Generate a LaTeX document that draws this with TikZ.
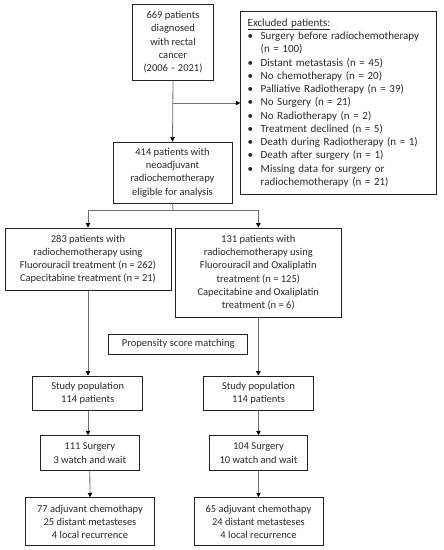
\documentclass[tikz,border=0pt]{standalone}
\usepackage{fontspec}
\setmainfont{Carlito}
\usetikzlibrary{arrows.meta}
\definecolor{boxc}{HTML}{222222}
\definecolor{linec}{HTML}{707070}
\definecolor{txtc}{HTML}{2A2A2A}
\newcommand{\bl}[1]{\makebox[13pt][l]{\textbullet}#1}
\newcommand{\cn}[1]{\hspace*{13pt}#1}
\newcommand{\exsp}{\fontsize{11}{13.25}\selectfont\spaceskip=3.6pt plus 1pt\relax}
\begin{document}
\begin{tikzpicture}[x=1pt,y=-1pt,
  box/.style={draw=boxc,line width=0.9pt,align=center,inner sep=0pt,
    font=\fontsize{10.5}{13.2}\selectfont,text=txtc},
  conn/.style={draw=linec,line width=0.8pt,-{Triangle[length=4.5pt,width=4.5pt,color=black]}},
  plain/.style={draw=linec,line width=0.8pt}]
\useasboundingbox (0,0) rectangle (444,550);
\fill[white] (0,0) rectangle (444,550);

\node[box,minimum width=81pt,minimum height=75.5pt] (b1) at (173,42.2)
  {669 patients\\diagnosed\\with rectal\\cancer\\(2006 -- 2021)};
\node[box,align=left,inner xsep=7pt,text width=182pt,minimum height=182.3pt] (ex) at (338.7,102.8)
  {\exsp\underline{Excluded patients:}\\
   \bl{Surgery before radiochemotherapy}\\
   \cn{(n = 100)}\\
   \bl{Distant metastasis (n = 45)}\\
   \bl{No chemotherapy (n = 20)}\\
   \bl{Palliative Radiotherapy (n = 39)}\\
   \bl{No Surgery (n = 21)}\\
   \bl{No Radiotherapy (n = 2)}\\
   \bl{Treatment declined (n = 5)}\\
   \bl{Death during Radiotherapy (n = 1)}\\
   \bl{Death after surgery (n = 1)}\\
   \bl{Missing data for surgery or}\\
   \cn{radiochemotherapy (n = 21)}};
\node[box,minimum width=119pt,minimum height=61pt] (b414) at (172.5,172.5)
  {414 patients with\\neoadjuvant\\radiochemotherapy\\eligible for analysis};
\node[box,minimum width=166pt,minimum height=62.7pt] (b283) at (88,259.3)
  {283 patients with\\radiochemotherapy using\\Fluorouracil treatment (n = 262)\\Capecitabine treatment (n = 21)};
\node[box,minimum width=165.3pt,minimum height=89pt] (b131) at (258.3,272.5)
  {131 patients with\\radiochemotherapy using\\Fluorouracil and Oxaliplatin\\treatment (n = 125)\\Capecitabine and Oxaliplatin\\treatment (n = 6)};
\node[box,minimum width=139pt,minimum height=20pt] (prop) at (178.2,344)
  {Propensity score matching};
\node[box,minimum width=110pt,minimum height=34.7pt] (s1) at (87.7,393.3)
  {Study population\\114 patients};
\node[box,minimum width=109.6pt,minimum height=34.7pt] (s2) at (258.5,393.3)
  {Study population\\114 patients};
\node[box,minimum width=98.3pt,minimum height=35pt] (g1) at (89.8,453.2)
  {111 Surgery\\3 watch and wait};
\node[box,minimum width=98.4pt,minimum height=35pt] (g2) at (258.5,453.2)
  {104 Surgery\\10 watch and wait};
\node[box,minimum width=128.6pt,minimum height=48pt] (f1) at (90,521.7)
  {77 adjuvant chemothapy\\25 distant metasteses\\4 local recurrence};
\node[box,minimum width=129pt,minimum height=48pt] (f2) at (258.5,521.7)
  {65 adjuvant chemothapy\\24 distant metasteses\\4 local recurrence};

\coordinate (j1) at (173,103);
\coordinate (j2) at (173,210);
\draw[conn] (b1.south) -- (b414.north);
\draw[conn] (j1) -- (j1 -| ex.west);
\draw[plain] (b414.south) -- (j2);
\draw[plain] (j2 -| b283.north) -- (j2 -| b131.north);
\draw[conn] (j2 -| b283.north) -- (b283.north);
\draw[conn] (j2 -| b131.north) -- (b131.north);
\draw[conn] (b283.south) -- (b283.south |- s1.north);
\draw[conn] (b131.south) -- (b131.south |- s2.north);
\draw[conn] (s1.south -| b283.south) -- (g1.north -| b283.south);
\draw[conn] (s2.south) -- (g2.north);
\draw[conn] (g1.south) -- (f1.north);
\draw[conn] (g2.south) -- (f2.north);
\end{tikzpicture}
\end{document}
